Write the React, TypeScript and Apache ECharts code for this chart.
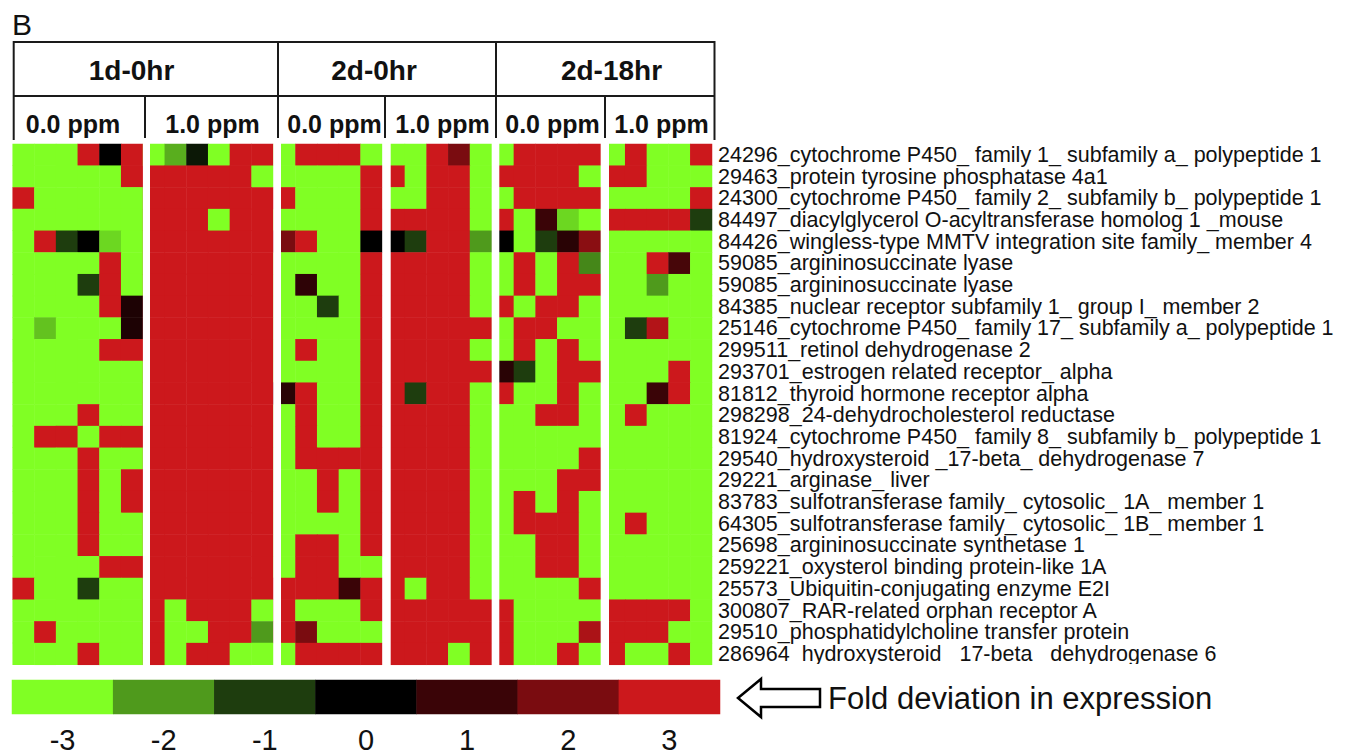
import React, { useEffect, useRef } from "react";
import * as echarts from "echarts";

// ---------- data ----------
const geneLabels = [
  "24296_cytochrome P450_ family 1_ subfamily a_ polypeptide 1",
  "29463_protein tyrosine phosphatase 4a1",
  "24300_cytochrome P450_ family 2_ subfamily b_ polypeptide 1",
  "84497_diacylglycerol O-acyltransferase homolog 1 _mouse",
  "84426_wingless-type MMTV integration site family_ member 4",
  "59085_argininosuccinate lyase",
  "59085_argininosuccinate lyase",
  "84385_nuclear receptor subfamily 1_ group I_ member 2",
  "25146_cytochrome P450_ family 17_ subfamily a_ polypeptide 1",
  "299511_retinol dehydrogenase 2",
  "293701_estrogen related receptor_ alpha",
  "81812_thyroid hormone receptor alpha",
  "298298_24-dehydrocholesterol reductase",
  "81924_cytochrome P450_ family 8_ subfamily b_ polypeptide 1",
  "29540_hydroxysteroid _17-beta_ dehydrogenase 7",
  "29221_arginase_ liver",
  "83783_sulfotransferase family_ cytosolic_ 1A_ member 1",
  "64305_sulfotransferase family_ cytosolic_ 1B_ member 1",
  "25698_argininosuccinate synthetase 1",
  "259221_oxysterol binding protein-like 1A",
  "25573_Ubiquitin-conjugating enzyme E2I",
  "300807_RAR-related orphan receptor A",
  "29510_phosphatidylcholine transfer protein",
  "286964_hydroxysteroid _17-beta_ dehydrogenase 6",
];

const timeHeaders = ["1d-0hr", "2d-0hr", "2d-18hr"];
const doseHeaders = ["0.0 ppm", "1.0 ppm", "0.0 ppm", "1.0 ppm", "0.0 ppm", "1.0 ppm"];

// 1d-0hr, 0.0 ppm
const d1_ppm0 = [
  [-3, -3, -3, 3, 0, 3],
  [-3, -3, -3, -3, -3, 3],
  [3, -3, -3, -3, -3, -3],
  [-3, -3, -3, -3, -3, -3],
  [-3, 3, -1, 0, -2.6, -3],
  [-3, -3, -3, -3, 3, -3],
  [-3, -3, -3, -1, 3, -3],
  [-3, -3, -3, -3, 3, 0.5],
  [-3, -2.4, -3, -3, -3, 0.5],
  [-3, -3, -3, -3, 3, 3],
  [-3, -3, -3, -3, -3, -3],
  [-3, -3, -3, -3, -3, -3],
  [-3, -3, -3, 3, -3, -3],
  [-3, 3, 3, -3, 3, 3],
  [-3, -3, -3, 3, -3, -3],
  [-3, -3, -3, 3, -3, 3],
  [-3, -3, -3, 3, -3, 3],
  [-3, -3, -3, 3, -3, -3],
  [-3, -3, -3, 3, -3, -3],
  [-3, -3, -3, -3, 3, 3],
  [3, -3, -3, -1, -3, -3],
  [-3, -3, -3, -3, -3, -3],
  [-3, 3, -3, -3, -3, -3],
  [-3, -3, -3, 3, -3, -3],
];

// 1d-0hr, 1.0 ppm
const d1_ppm1 = [
  [-3, -2.2, -0.4, -3, 3, 3],
  [3, 3, 3, 3, 3, -3],
  [3, 3, 3, 3, 3, 3],
  [3, 3, 3, -3, 3, 3],
  [3, 3, 3, 3, 3, 3],
  [3, 3, 3, 3, 3, 3],
  [3, 3, 3, 3, 3, 3],
  [3, 3, 3, 3, 3, 3],
  [3, 3, 3, 3, 3, 3],
  [3, 3, 3, 3, 3, 3],
  [3, 3, 3, 3, 3, 3],
  [3, 3, 3, 3, 3, 3],
  [3, 3, 3, 3, 3, 3],
  [3, 3, 3, 3, 3, 3],
  [3, 3, 3, 3, 3, 3],
  [3, 3, 3, 3, 3, 3],
  [3, 3, 3, 3, 3, 3],
  [3, 3, 3, 3, 3, 3],
  [3, 3, 3, 3, 3, 3],
  [3, 3, 3, 3, 3, 3],
  [3, 3, 3, 3, 3, 3],
  [3, -3, 3, 3, 3, -3],
  [3, -3, -3, 3, 3, -2],
  [3, -3, 3, 3, -3, -3],
];

// 2d-0hr, 0.0 ppm
const d2_ppm0 = [
  [-3, 3, 3, 3, -3],
  [-3, -3, -3, -3, 3],
  [3, -3, -3, -3, 3],
  [-3, -3, -3, -3, 3],
  [2, 3, -3, -3, 0],
  [-3, -3, -3, -3, 3],
  [-3, 0.8, -3, -3, 3],
  [-3, -3, -1, -3, 3],
  [-3, -3, -3, -3, 3],
  [-3, 3, -3, -3, 3],
  [-3, -3, -3, -3, 3],
  [0.7, 3, -3, -3, 3],
  [-3, 3, -3, -3, 3],
  [-3, 3, -3, -3, 3],
  [-3, 3, 3, 3, 3],
  [-3, -3, 3, -3, 3],
  [-3, -3, 3, -3, 3],
  [-3, -3, -3, -3, 3],
  [-3, 3, 3, -3, 3],
  [-3, 3, 3, -3, -3],
  [3, 3, 3, 1, 3],
  [3, -3, -3, -3, 3],
  [3, 2, -3, -3, -3],
  [-3, 3, 3, 3, 3],
];

// 2d-0hr, 1.0 ppm
const d2_ppm1 = [
  [-3, -3, 3, 2, -3],
  [3, -3, 3, 3, -3],
  [-3, -3, 3, 3, -3],
  [3, 3, 3, 3, -3],
  [0, -1, 3, 3, -2],
  [3, 3, 3, 3, -3],
  [3, 3, 3, 3, -3],
  [3, 3, 3, 3, -3],
  [3, 3, 3, 3, 3],
  [3, 3, 3, 3, -3],
  [3, 3, 3, 3, 3],
  [3, -1, 3, 3, -3],
  [3, 3, 3, 3, -3],
  [3, 3, 3, 3, -3],
  [3, 3, 3, 3, -3],
  [3, 3, 3, 3, -3],
  [3, 3, 3, 3, -3],
  [3, 3, 3, 3, -3],
  [3, 3, 3, 3, -3],
  [3, 3, 3, 3, -3],
  [3, -3, 3, 3, -3],
  [3, 3, 3, 3, 3],
  [3, 3, 3, 3, 3],
  [3, 3, 3, -3, 3],
];

// 2d-18hr, 0.0 ppm
const d2h18_ppm0 = [
  [-3, 3, 3, 3, 3],
  [3, 3, 3, 3, -3],
  [-3, 3, 3, 3, 3],
  [3, -3, 1, -2.6, -3],
  [0, -3, -1, 0.7, 2.2],
  [-3, 3, -3, 3, -1.8],
  [-3, 3, -3, 3, 3],
  [3, -3, 3, 3, -3],
  [-3, 3, 3, -3, -3],
  [-3, 3, -3, 3, -3],
  [0.7, -1, -3, 3, 3],
  [3, -3, -3, 3, -3],
  [-3, -3, 3, 3, -3],
  [-3, -3, -3, -3, -3],
  [-3, -3, -3, -3, 3],
  [-3, -3, -3, 3, 3],
  [-3, 3, -3, 3, -3],
  [-3, 3, 3, 3, -3],
  [-3, -3, 3, 3, -3],
  [-3, -3, 3, 3, -3],
  [-3, -3, -3, -3, 3],
  [3, -3, -3, -3, -3],
  [3, -3, -3, -3, 2.6],
  [3, -3, -3, 3, -3],
];

// 2d-18hr, 1.0 ppm
const d2h18_ppm1 = [
  [-3, 3, -3, -3, 3],
  [3, 3, -3, -3, -3],
  [-3, -3, -3, -3, 3],
  [3, 3, 3, 3, -1],
  [-3, -3, -3, -3, -3],
  [-3, -3, 3, 1.2, -3],
  [-3, -3, -2, -3, -3],
  [-3, -3, -3, -3, -3],
  [-3, -1, 2.7, -3, -3],
  [-3, -3, -3, -3, -3],
  [-3, -3, -3, 3, -3],
  [-3, -3, 1, 3, -3],
  [-3, 3, -3, -3, -3],
  [-3, -3, -3, -3, -3],
  [-3, -3, -3, -3, -3],
  [-3, -3, -3, -3, -3],
  [-3, -3, -3, -3, -3],
  [-3, 3, -3, -3, -3],
  [-3, -3, -3, -3, -3],
  [-3, -3, -3, -3, -3],
  [-3, -3, -3, -3, -3],
  [3, 3, 3, 3, -3],
  [3, 3, 3, -3, -3],
  [3, -3, -3, 3, -3],
];

const legendValues = [-3, -2, -1, 0, 1, 2, 3];
const legendLabels = ["-3", "-2", "-1", "0", "1", "2", "3"];
const legendTitle = "Fold deviation in expression";
const panelLetter = "B";

const palette = ["#80ff24", "#4f9a1c", "#1e3d0e", "#000000", "#3a0407", "#7a0c10", "#cc181c"];

// ---------- layout ----------
const FONT = "'Liberation Sans', Arial, sans-serif";
const CW = 21.7;
const TOP = 144;
const groupRights = [142.9, 273.3, 382.3, 491.7, 600.7, 712];
const gapRanges = [
  [142.9, 150],
  [273.3, 281],
  [382.3, 390.7],
  [491.7, 499.3],
  [600.7, 609],
];
const timeHeaderX = [131.5, 374, 611.5];
const doseHeaderX = [73, 212.5, 334.5, 442.5, 552.5, 661.5];

export default function App() {
  const ref = useRef<HTMLDivElement>(null);

  useEffect(() => {
    if (!ref.current) return;
    const chart = echarts.init(ref.current, undefined, { renderer: "svg" });
    const groups = [d1_ppm0, d1_ppm1, d2_ppm0, d2_ppm1, d2h18_ppm0, d2h18_ppm1];
    const nRows = geneLabels.length;

    const grids: any[] = groups.map((g, i) => ({
      left: groupRights[i] - g[0].length * CW,
      top: TOP,
      width: g[0].length * CW,
      height: nRows * CW,
    }));
    grids.push({ left: 12, top: 680, width: 708, height: 34 });

    const xAxes: any[] = groups.map((g, i) => ({
      type: "category",
      gridIndex: i,
      data: g[0].map((_, j) => String(j)),
      show: false,
    }));
    xAxes.push({
      type: "category",
      gridIndex: 6,
      data: legendLabels,
      axisLine: { show: false },
      axisTick: { show: false },
      axisLabel: { fontSize: 29, color: "#111", margin: 11, fontFamily: FONT },
    });

    const yAxes: any[] = groups.map((_, i) => ({
      type: "category",
      gridIndex: i,
      inverse: true,
      data: geneLabels,
      show: i === 5,
      position: "right",
      axisLine: { show: false },
      axisTick: { show: false },
      axisLabel: {
        interval: 0,
        margin: 6,
        fontSize: 21.5,
        color: "#111",
        fontFamily: FONT,
      },
    }));
    yAxes.push({ type: "category", gridIndex: 6, data: ["legend"], show: false });

    const series: any[] = groups.map((g, i) => ({
      type: "heatmap",
      xAxisIndex: i,
      yAxisIndex: i,
      data: g.flatMap((row, r) => row.map((v, c) => [c, r, v])),
      itemStyle: { borderWidth: 0 },
      emphasis: { disabled: true },
    }));
    series.push({
      type: "heatmap",
      xAxisIndex: 6,
      yAxisIndex: 6,
      data: legendValues.map((v, i) => [i, 0, v]),
      itemStyle: { borderWidth: 0 },
      emphasis: { disabled: true },
    });

    const lineStyle = { stroke: "#1a1a1a", lineWidth: 2 };
    const graphic: any[] = [
      {
        type: "text",
        x: 12,
        y: 24,
        style: { text: panelLetter, fontSize: 30, fill: "#111", fontFamily: FONT, verticalAlign: "middle" },
      },
      { type: "line", shape: { x1: 13.7, y1: 42, x2: 714.5, y2: 42 }, style: lineStyle },
      { type: "line", shape: { x1: 13.7, y1: 96, x2: 714.5, y2: 96 }, style: lineStyle },
      ...[13.7, 278, 496, 714.5].map((x) => ({
        type: "line",
        shape: { x1: x, y1: 41, x2: x, y2: 140 },
        style: lineStyle,
      })),
      ...[145, 385, 605].map((x) => ({
        type: "line",
        shape: { x1: x, y1: 96, x2: x, y2: 140 },
        style: lineStyle,
      })),
      ...timeHeaders.map((t, i) => ({
        type: "text",
        x: timeHeaderX[i],
        y: 70,
        style: {
          text: t,
          fontSize: 28,
          fontWeight: "bold",
          fill: "#111",
          fontFamily: FONT,
          align: "center",
          verticalAlign: "middle",
        },
      })),
      ...doseHeaders.map((t, i) => ({
        type: "text",
        x: doseHeaderX[i],
        y: 124,
        style: {
          text: t,
          fontSize: 25,
          fontWeight: "bold",
          fill: "#111",
          fontFamily: FONT,
          align: "center",
          verticalAlign: "middle",
        },
      })),
      ...gapRanges.map(([a, b]) => ({
        type: "rect",
        z: 100,
        shape: { x: a, y: 138, width: b - a, height: 532 },
        style: { fill: "#ffffff" },
      })),
      {
        type: "rect",
        z: 100,
        shape: { x: 716, y: 664, width: 655, height: 12 },
        style: { fill: "#ffffff" },
      },
      {
        type: "polygon",
        shape: {
          points: [
            [738, 698],
            [761, 679],
            [761, 689],
            [820, 689],
            [820, 707],
            [761, 707],
            [761, 717],
          ],
        },
        style: { fill: "#ffffff", stroke: "#000", lineWidth: 2.5 },
      },
      {
        type: "text",
        x: 828,
        y: 698,
        style: { text: legendTitle, fontSize: 31, fill: "#111", fontFamily: FONT, verticalAlign: "middle" },
      },
    ];

    chart.setOption({
      animation: false,
      backgroundColor: "#ffffff",
      grid: grids,
      xAxis: xAxes,
      yAxis: yAxes,
      visualMap: {
        type: "continuous",
        show: false,
        min: -3,
        max: 3,
        dimension: 2,
        seriesIndex: [0, 1, 2, 3, 4, 5, 6],
        inRange: { color: palette },
      },
      series,
      graphic,
    });

    return () => chart.dispose();
  }, []);

  return (
    <div
      ref={ref}
      style={{ position: "absolute", left: 0, top: 0, width: 1371, height: 754 }}
    />
  );
}
